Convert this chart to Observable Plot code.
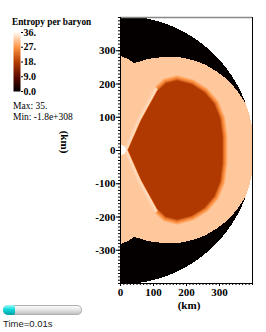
<!DOCTYPE html>
<html><head><meta charset="utf-8">
<script src="https://cdn.jsdelivr.net/npm/d3@7"></script>
<script src="https://cdn.jsdelivr.net/npm/@observablehq/plot@0.6"></script>
<style>
body{margin:0;background:#fff;}
#wrap{position:relative;width:266px;height:332px;overflow:hidden;font-family:"Liberation Serif",serif;color:#000;}
#wrap svg{position:absolute;left:0;top:0;}
.abs{position:absolute;white-space:nowrap;line-height:1;}
</style></head><body><div id="wrap"></div>
<script>
// ---- data ----
const legendTicks = [0, 9, 18, 27, 36];
const legendTickLabels = ["0.0", "9.0", "18.", "27.", "36."];
const colorStops = ["#000000", "#5e0a00", "#b43c00", "#ff9444", "#fffaf4"];
const xTicks = [0, 100, 200, 300];
const yTicks = [-300, -200, -100, 0, 100, 200, 300];
const gridRadius = [403];           // km, edge of the computed domain
const coreRadius = [15];            // km, white core at origin
// shock front: polar angle from +y axis (deg) and radius (km)
const shockAngle  = [0, 4, 8.7, 12, 16.5, 24, 33, 45, 57, 70, 80, 90, 100, 110, 123, 135, 147, 156, 163.5, 168, 171.3, 176, 180];
const shockRadius = [282, 275, 264, 272, 285, 305, 332, 362, 386, 403, 410, 414, 410, 403, 386, 362, 332, 305, 285, 272, 264, 275, 282];
// low-entropy bubble outline (km)
const blobX = [20, 60, 110, 135, 170, 215, 255, 285, 303, 310, 310, 303, 285, 255, 215, 170, 135, 110, 60];
const blobY = [0, 90, 180, 203, 212, 200, 175, 140, 95, 40, -40, -95, -140, -175, -200, -212, -203, -180, -90];
// entropy levels of the regions
const regionNames   = ["unshocked", "shocked", "bubble", "rim", "cone", "core"];
const regionEntropy = [0.4, 31.5, 17.5, 24, 33.5, 36];

const E = Object.fromEntries(regionNames.map((n, i) => [n, regionEntropy[i]]));

function interp(xs, ys, v) {
  for (let i = 1; i < xs.length; i++) {
    if (v <= xs[i]) { const t = (v - xs[i-1]) / (xs[i] - xs[i-1]); return ys[i-1] + t * (ys[i] - ys[i-1]); }
  }
  return ys[ys.length - 1];
}
function blobDistance(px, py) {
  let inside = false, best = Infinity, bestX = 0;
  const n = blobX.length;
  for (let i = 0, j = n - 1; i < n; j = i++) {
    const xi = blobX[i], yi = blobY[i], xj = blobX[j], yj = blobY[j];
    if ((yi > py) !== (yj > py) && px < (xj - xi) * (py - yi) / (yj - yi) + xi) inside = !inside;
    const dx = xi - xj, dy = yi - yj;
    let t = ((px - xj) * dx + (py - yj) * dy) / (dx * dx + dy * dy);
    t = Math.max(0, Math.min(1, t));
    const cx = xj + t * dx, cy = yj + t * dy;
    const d = Math.hypot(px - cx, py - cy);
    if (d < best) { best = d; bestX = cx; }
  }
  return {d: inside ? -best : best, cone: bestX < 112};
}
function entropy(x, y) {
  const r = Math.hypot(x, y);
  if (r > gridRadius[0]) return NaN;
  if (r < coreRadius[0]) return E.core;
  const th = Math.atan2(x, y) * 180 / Math.PI;
  if (r > interp(shockAngle, shockRadius, th)) return E.unshocked;
  const {d, cone} = blobDistance(x, y);
  const peak = cone ? E.cone : E.rim;
  const a = cone ? 2 : 4;
  if (d < -a) return E.bubble;
  if (d < 2) return E.bubble + (peak - E.bubble) * (d + a) / (a + 2);
  if (d < 14) return peak + (E.shocked - peak) * (d - 2) / 12;
  return E.shocked;
}

const colorScale = {type: "linear", domain: legendTicks, range: colorStops, clamp: true};

const main = Plot.plot({
  width: 266, height: 332,
  marginLeft: 120, marginRight: 14, marginTop: 17, marginBottom: 49,
  x: {domain: [0, 400]},
  y: {domain: [-400, 400]},
  color: colorScale,
  style: {fontFamily: "Liberation Serif", fontSize: "11px", fontWeight: "bold", background: "transparent", color: "#000"},
  marks: [
    Plot.raster({x1: 0, x2: 400, y1: -400, y2: 400, width: 132, height: 266, fill: entropy, imageRendering: "pixelated"}),
    Plot.axisY(d3.range(-400, 401, 10), {tickSize: 2, tickFormat: () => "", label: null}),
    Plot.axisY(yTicks, {tickSize: 4, tickPadding: 1, tickFormat: d => String(d), label: null}),
    Plot.axisX(d3.range(0, 401, 10), {tickSize: 2, tickFormat: () => "", label: null}),
    Plot.axisX(xTicks, {tickSize: 3, tickPadding: 2, tickFormat: d => String(d), label: null}),
    Plot.ruleY([400], {stroke: "#888", strokeWidth: 1.4}),
    Plot.ruleX([400], {stroke: "#000"}),
    Plot.ruleX([0], {stroke: "#000"}),
    Plot.ruleY([-400], {stroke: "#000"})
  ]
});

const legend = Plot.plot({
  width: 60, height: 100,
  marginLeft: 13, marginRight: 40, marginTop: 32, marginBottom: 9,
  x: {domain: [0, 1], axis: null},
  y: {domain: [0, 36]},
  color: colorScale,
  style: {fontFamily: "Liberation Serif", fontSize: "10px", fontWeight: "bold", background: "transparent", color: "#000"},
  marks: [
    Plot.raster({x1: 0, x2: 1, y1: 0, y2: 36, width: 1, height: 120, fill: (x, y) => y}),
    Plot.axisY(legendTicks, {anchor: "right", tickSize: 2, tickPadding: 1, tickFormat: (d, i) => legendTickLabels[i], label: null})
  ]
});

const wrap = document.getElementById("wrap");
wrap.appendChild(main);
wrap.appendChild(legend);

function addText(txt, css) {
  const el = document.createElement("div");
  el.className = "abs";
  el.textContent = txt;
  Object.assign(el.style, css);
  wrap.appendChild(el);
  return el;
}
addText("Entropy per baryon", {left: "12px", top: "18px", fontSize: "9.3px", fontWeight: "bold"});
addText("Max:  35.", {left: "13px", top: "102px", fontSize: "9.5px"});
addText("Min:  -1.8e+308", {left: "13px", top: "113px", fontSize: "9.5px"});
addText("(km)", {left: "189px", top: "300px", fontSize: "11px", fontWeight: "bold", transform: "translateX(-50%)"});
addText("(km)", {left: "64px", top: "142px", fontSize: "11px", fontWeight: "bold", transform: "translate(-50%,-50%) rotate(90deg)"});

// time slider
const bar = document.createElement("div");
Object.assign(bar.style, {position: "absolute", left: "3px", top: "305px", width: "79px", height: "10px", borderRadius: "5px",
  background: "linear-gradient(#ffffff, #e8e8e8 45%, #b8b8b8)", boxShadow: "inset 0 0 0 1px #b0b0b0"});
wrap.appendChild(bar);
const knob = document.createElement("div");
Object.assign(knob.style, {position: "absolute", left: "3px", top: "305px", width: "12px", height: "10px", borderRadius: "5px 2px 2px 5px",
  background: "linear-gradient(#9ffcfc, #10d8d8 45%, #00a0a8)"});
wrap.appendChild(knob);
addText("Time=0.01s", {left: "3px", top: "319px", fontSize: "9.5px", fontFamily: "Liberation Sans, sans-serif", color: "#222"});
</script></body></html>
